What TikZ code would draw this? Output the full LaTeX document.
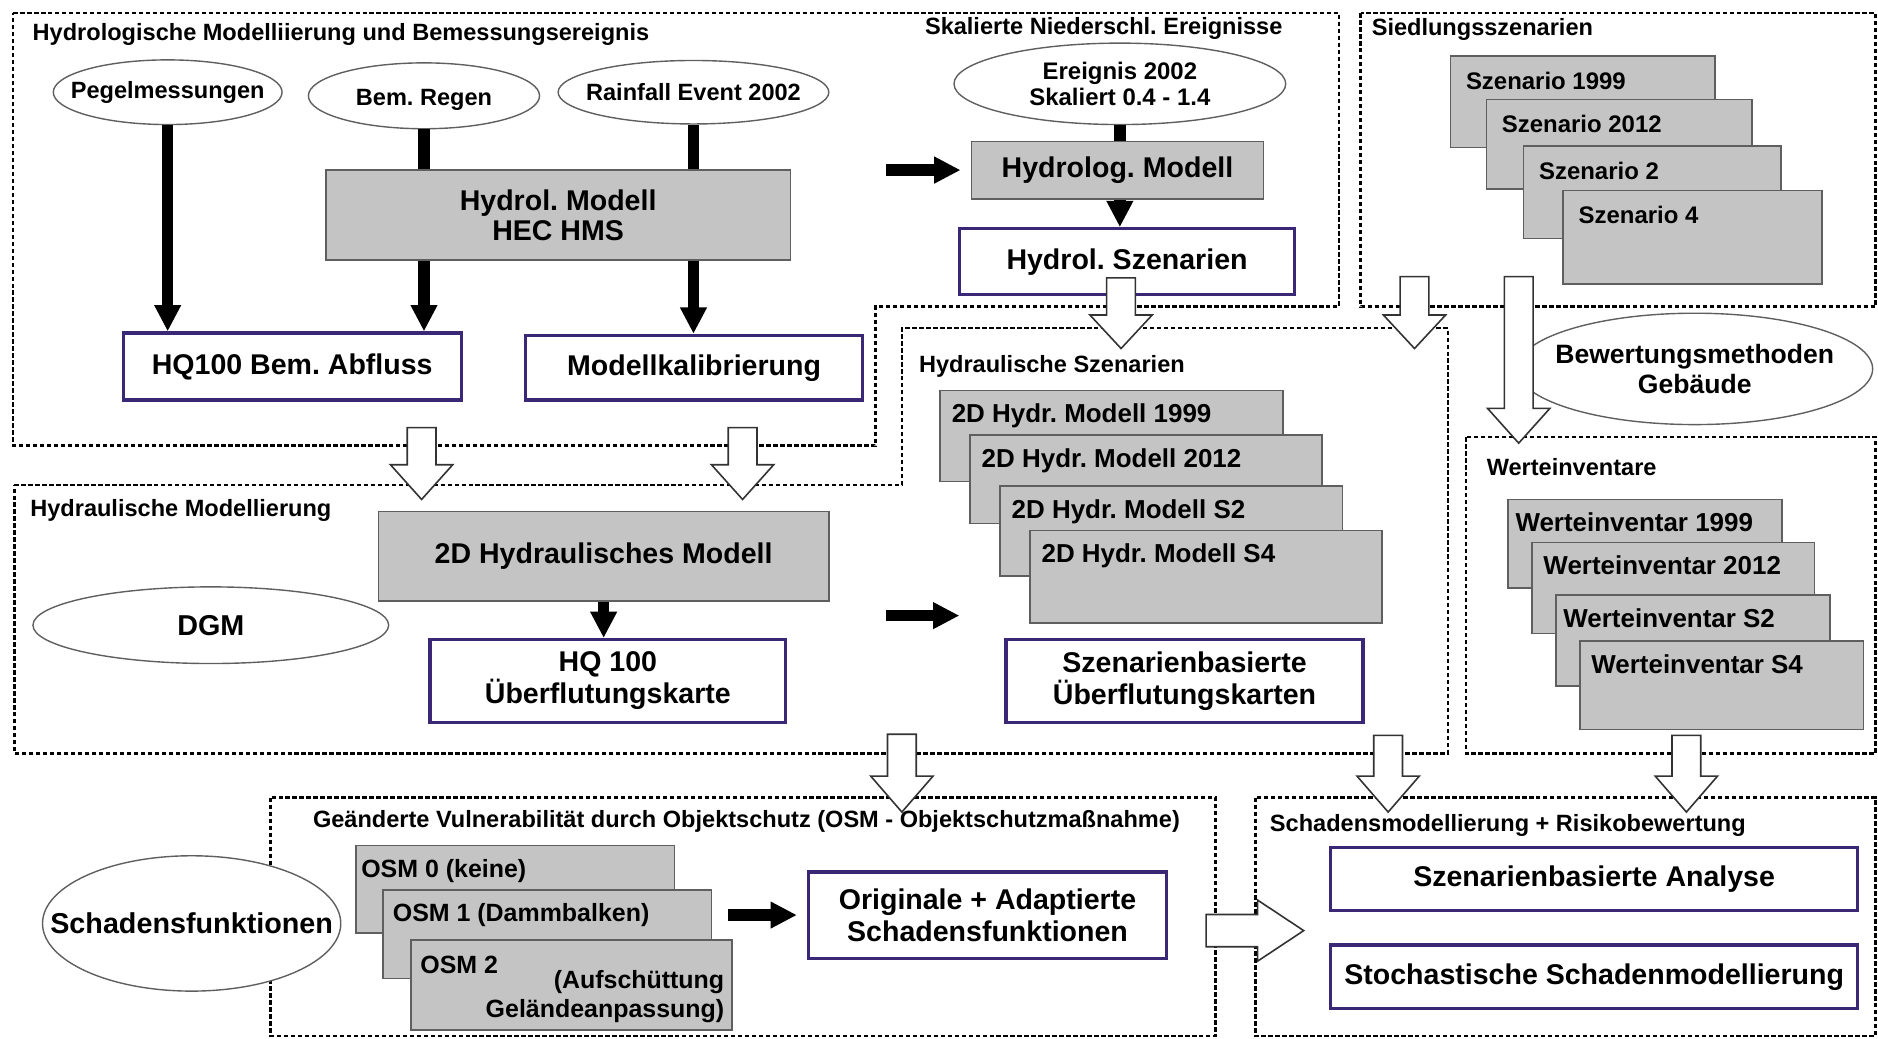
\documentclass[tikz,border=0pt]{standalone}
\usepackage{fontspec}
\setmainfont{Liberation Sans}
\usetikzlibrary{shapes.geometric,arrows.meta}
\definecolor{boxgray}{RGB}{196,196,196}
\definecolor{edgegray}{RGB}{95,95,95}
\definecolor{frameblue}{RGB}{58,40,118}
\newcommand{\fsz}[2]{\bfseries\fontsize{#1}{#2}\selectfont}
% hollow block arrow pointing down: x, top, start of head, tip
\newcommand{\hollowdown}[4]{%
  \draw[hollow] ({#1-12},{#2}) -- ({#1-12},{#3}) -- ({#1-26},{#3}) -- ({#1},{#4})
    -- ({#1+26},{#3}) -- ({#1+12},{#3}) -- ({#1+12},{#2}) -- cycle;}
\frenchspacing
\begin{document}
\begin{tikzpicture}[x=0.6pt,y=-0.6pt,
    region/.style={line width=1.3pt,dash pattern=on 2.2pt off 1.3pt},
    title/.style={anchor=west,inner sep=0pt,font=\fsz{11.8}{13}},
    ell/.style={ellipse,draw=edgegray,line width=0.7pt,fill=white,inner sep=0pt},
    ellbl/.style={align=center,inner sep=0pt},
    graybox/.style={draw=edgegray,line width=0.8pt,fill=boxgray,inner sep=0pt,align=center,font=\fsz{14.3}{15}},
    stackbox/.style={draw=edgegray,line width=0.8pt,fill=boxgray,inner sep=0pt},
    stacklbl/.style={anchor=north west,inner xsep=6pt,inner ysep=7pt},
    resbox/.style={draw=frameblue,line width=1.6pt,fill=white,inner sep=0pt,align=center,font=\fsz{14.3}{16}},
    flow/.style={line width=5.8pt,-{Triangle[width=12.6pt,length=13.2pt]}},
    feed/.style={line width=5.8pt},
    hollow/.style={draw=black!80,line width=0.8pt,fill=white,line join=miter}]
\useasboundingbox (0,0) rectangle (1568,867);

% dotted regions
\draw[region] (11,11) -- (1118,11) -- (1118,256) -- (731,256) -- (731,372) -- (11,372) -- cycle;
\draw[region] (1136,11) rectangle (1566,256);
\draw[region] (12,405) -- (753,405) -- (753,274) -- (1209,274) -- (1209,629) -- (12,629) -- cycle;
\draw[region] (1224,365) rectangle (1566,629);
\draw[region] (226,666) rectangle (1015,865);
\draw[region] (1048,666) rectangle (1566,865);

% region titles
\node[title] (tA) at (27,29) {Hydrologische Modelliierung und Bemessungsereignis};
\node[title] (tB) at (772,24) {Skalierte Niederschl. Ereignisse};
\node[title] (tE) at (1145,25) {Siedlungsszenarien};
\node[title] (tC) at (767,306) {Hydraulische Szenarien};
\node[title] (tD) at (25,426) {Hydraulische Modellierung};
\node[title] (tF) at (1241,390) {Werteinventare};
\node[title] (tG) at (261,686) {Geänderte Vulnerabilität durch Objektschutz (OSM - Objektschutzmaßnahme)};
\node[title] (tH) at (1060,689) {Schadensmodellierung + Risikobewertung};

% ellipses
\node[ell,minimum width=114.6pt,minimum height=32.4pt] (peg) at (140,77) {};
\node[ellbl,font=\fsz{11.8}{13}] (pegt) at (peg) {Pegelmessungen};
\node[ell,minimum width=115.8pt,minimum height=33pt] (regen) at (354,80) {};
\node[ellbl,font=\fsz{11.8}{13}] (regent) at (354,83) {Bem. Regen};
\node[ell,minimum width=135.6pt,minimum height=31.8pt] (rain) at (579,77) {};
\node[ellbl,font=\fsz{11.8}{13}] (raint) at (rain) {Rainfall Event 2002};
\node[ell,minimum width=166.2pt,minimum height=40.8pt] (ereig) at (935,70) {};
\node[ellbl,font=\fsz{12}{13.4}] (ereigt) at (ereig) {Ereignis 2002\\Skaliert 0.4 - 1.4};
\node[ell,minimum width=178.2pt,minimum height=55.8pt] (bewert) at (1415,308) {};
\node[ellbl,font=\fsz{13.3}{15}] (bewertt) at (bewert) {Bewertungsmethoden\\Gebäude};
\node[ell,minimum width=178.2pt,minimum height=38.4pt] (dgm) at (176,522) {};
\node[ellbl,font=\fsz{14.4}{16}] (dgmt) at (dgm) {DGM};
\node[ell,minimum width=149.4pt,minimum height=67.8pt] (schaden) at (160,771) {};
\node[ellbl,font=\fsz{14.4}{16}] (schadent) at (schaden) {Schadensfunktionen};

% models
\node[graybox,minimum width=232.8pt,minimum height=45pt] (hms) at (466,179.5) {Hydrol. Modell\\HEC HMS};
\node[graybox,minimum width=146.4pt,minimum height=28.8pt] (hlog) at (933,142) {Hydrolog. Modell};
\node[graybox,minimum width=225.6pt,minimum height=45pt] (hyd2d) at (504,464.5) {2D Hydraulisches Modell};

% results
\node[resbox,minimum width=169.2pt,minimum height=33.6pt] (hq) at (244,306) {HQ100 Bem. Abfluss};
\node[resbox,minimum width=168.6pt,minimum height=32.4pt] (kal) at (579.5,307) {Modellkalibrierung};
\node[resbox,minimum width=168pt,minimum height=33pt] (hsz) at (941,218.5) {Hydrol. Szenarien};
\node[resbox,minimum width=178.2pt,minimum height=41.4pt] (hqk) at (507.5,568.5) {HQ 100\\Überflutungskarte};
\node[resbox,minimum width=178.8pt,minimum height=41.4pt] (szk) at (989,568.5) {Szenarienbasierte\\Überflutungskarten};
\node[resbox,minimum width=179.4pt,minimum height=43.2pt] (orig) at (824.5,764) {Originale + Adaptierte\\Schadensfunktionen};
\node[resbox,minimum width=264pt,minimum height=31.8pt] (ana) at (1331,734) {Szenarienbasierte Analyse};
\node[resbox,minimum width=264pt,minimum height=31.8pt] (sto) at (1331,815.5) {Stochastische Schadenmodellierung};

% Siedlungsszenarien
\node[stackbox,minimum width=132.6pt,minimum height=45.6pt] (s1) at (1321.5,85) {};
\node[stacklbl,inner xsep=8pt,inner ysep=8pt,font=\fsz{12}{14}] (s1t) at (s1.north west) {Szenario 1999};
\node[stackbox,minimum width=133.2pt,minimum height=45pt] (s2) at (1352,120.5) {};
\node[stacklbl,inner xsep=8pt,inner ysep=8pt,font=\fsz{12}{14}] (s2t) at (s2.north west) {Szenario 2012};
\node[stackbox,minimum width=129pt,minimum height=46.2pt] (s3) at (1379.5,160.5) {};
\node[stacklbl,inner xsep=8pt,inner ysep=8pt,font=\fsz{12}{14}] (s3t) at (s3.north west) {Szenario 2};
\node[stackbox,minimum width=129.6pt,minimum height=46.8pt] (s4) at (1413,198) {};
\node[stacklbl,inner xsep=8pt,inner ysep=8pt,font=\fsz{12}{14}] (s4t) at (s4.north west) {Szenario 4};

% Hydraulische Szenarien
\node[stackbox,minimum width=171.6pt,minimum height=45.6pt] (h1) at (928,364) {};
\node[stacklbl,font=\fsz{13}{15}] (h1t) at (h1.north west) {2D Hydr. Modell 1999};
\node[stackbox,minimum width=176.4pt,minimum height=44.4pt] (h2) at (957,400) {};
\node[stacklbl,font=\fsz{13}{15}] (h2t) at (h2.north west) {2D Hydr. Modell 2012};
\node[stackbox,minimum width=171.6pt,minimum height=45pt] (h3) at (978,443.5) {};
\node[stacklbl,font=\fsz{13}{15}] (h3t) at (h3.north west) {2D Hydr. Modell S2};
\node[stackbox,minimum width=176.4pt,minimum height=46.2pt] (h4) at (1007,481.5) {};
\node[stacklbl,font=\fsz{13}{15}] (h4t) at (h4.north west) {2D Hydr. Modell S4};

% Werteinventare
\node[stackbox,minimum width=137.4pt,minimum height=44.4pt] (w1) at (1373.5,454) {};
\node[stacklbl,inner xsep=4pt,font=\fsz{13}{15}] (w1t) at (w1.north west) {Werteinventar 1999};
\node[stackbox,minimum width=141.6pt,minimum height=45.6pt] (w2) at (1397,491) {};
\node[stacklbl,inner xsep=6pt,font=\fsz{13}{15}] (w2t) at (w2.north west) {Werteinventar 2012};
\node[stackbox,minimum width=137.4pt,minimum height=45.6pt] (w3) at (1413.5,535) {};
\node[stacklbl,inner xsep=4pt,font=\fsz{13}{15}] (w3t) at (w3.north west) {Werteinventar S2};
\node[stackbox,minimum width=142.2pt,minimum height=44.4pt] (w4) at (1437.5,572) {};
\node[stacklbl,inner xsep=6pt,font=\fsz{13}{15}] (w4t) at (w4.north west) {Werteinventar S4};

% Objektschutz
\node[stackbox,minimum width=159.6pt,minimum height=43.8pt] (o1) at (430,742.5) {};
\node[stacklbl,inner xsep=3pt,font=\fsz{12.5}{14.4}] (o1t) at (o1.north west) {OSM 0 (keine)};
\node[stackbox,minimum width=164.4pt,minimum height=44.4pt] (o2) at (457,780) {};
\node[stacklbl,inner xsep=5pt,font=\fsz{12.5}{14.4}] (o2t) at (o2.north west) {OSM 1 (Dammbalken)};
\node[stackbox,minimum width=160.8pt,minimum height=45pt] (o3) at (477,822.5) {};
\node[stacklbl,inner xsep=5pt,inner ysep=8pt,font=\fsz{12.5}{14.4}] (o3t) at (o3.north west) {OSM 2};
\node[anchor=south east,align=right,inner xsep=4pt,inner ysep=4pt,font=\fsz{12.5}{14.4}] (o3u) at (o3.south east) {(Aufschüttung\\Geländeanpassung)};

% thick black flows
\draw[flow] (peg.south) -- (hq.north -| peg);
\draw[feed] (regen.south) -- (hms.north -| regen);
\draw[flow] (hms.south -| regen) -- (hq.north -| regen);
\draw[feed] (rain.south) -- (hms.north -| rain);
\draw[flow] (hms.south -| rain) -- (kal.north -| rain);
\draw[feed] (ereig.south) -- (hlog.north -| ereig);
\draw[flow] (hlog.south -| ereig) -- (hsz.north -| ereig);
\draw[flow] (hyd2d.south) -- (hqk.north -| hyd2d);
\coordinate (a1) at (740,142);
\draw[flow,shorten >=5pt] (a1) -- (hlog.west);
\coordinate (a2s) at (740,514);
\coordinate (a2e) at (801,514);
\draw[flow] (a2s) -- (a2e);
\coordinate (a3) at (608,764);
\draw[flow,shorten >=5pt] (a3) -- (orig.west);

% hollow block arrows
\hollowdown{352}{357}{388}{417}
\hollowdown{620}{357}{388}{417}
\hollowdown{936}{232}{263}{291}
\hollowdown{1181}{231}{263}{291}
\hollowdown{1268}{231}{341}{370}
\hollowdown{753}{613}{648}{678}
\hollowdown{1159}{614}{648}{678}
\hollowdown{1408}{614}{648}{678}
\draw[hollow] (1007,763.5) -- (1050,763.5) -- (1050,751.5) -- (1088.5,777)
  -- (1050,802.5) -- (1050,790.5) -- (1007,790.5) -- cycle;
\end{tikzpicture}
\end{document}
